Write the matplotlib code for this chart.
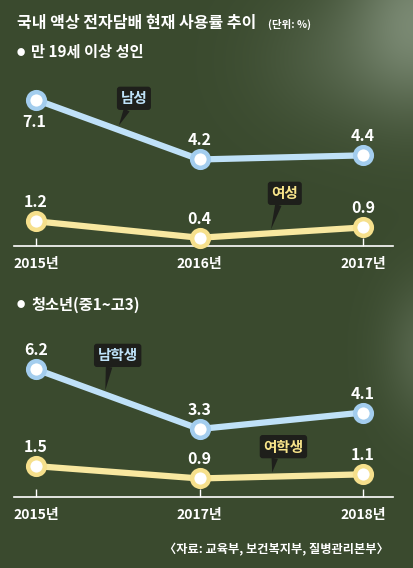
import numpy as np
import matplotlib
matplotlib.use('Agg')
import matplotlib.pyplot as plt

plt.rcParams['font.family'] = ['Noto Sans CJK KR', 'DejaVu Sans']
plt.rcParams['font.weight'] = 'bold'

# 데이터
adult_years = ['2015년', '2016년', '2017년']
adult_male = [7.1, 4.2, 4.4]
adult_female = [1.2, 0.4, 0.9]

teen_years = ['2015년', '2017년', '2018년']
teen_male = [6.2, 3.3, 4.1]
teen_female = [1.5, 0.9, 1.1]

W, H = 413, 568
bg = '#3a4a2e'
blue_line = '#bfe1f8'
blue_edge = '#a3cdee'
yellow_line = '#f8e8a0'
yellow_edge = '#f6e08c'
box_color = '#1e1f1b'

fig = plt.figure(figsize=(W / 100, H / 100), dpi=100, facecolor=bg)

# 배경 (흐릿한 밝은 부분)
bax = fig.add_axes([0, 0, 1, 1], zorder=-1)
yy, xx = np.mgrid[0:H, 0:W]
glow = (0.9 * np.exp(-(((xx - 420) / 70) ** 2 + ((yy - 20) / 90) ** 2))
        + 0.45 * np.exp(-(((xx - 430) / 45) ** 2 + ((yy - 350) / 70) ** 2))
        + 0.25 * np.exp(-(((xx - 330) / 80) ** 2 + ((yy - 60) / 70) ** 2)))
glow = np.clip(glow, 0, 1)
base = np.array([58, 74, 46]) / 255
light = np.array([125, 140, 118]) / 255
img = base[None, None, :] * (1 - glow[..., None]) + light[None, None, :] * glow[..., None]
bax.imshow(img, extent=[0, W, H, 0], aspect='auto')
bax.axis('off')


def px(x, y):
    return x / W, 1 - y / H


def panel(rect_top, axis_y, years, male, female, male_name, female_name,
          male_label_below, male_tip, female_tip, male_off, female_off):
    left = 14 / W
    width = 379 / W
    bottom = 1 - axis_y / H
    height = (axis_y - rect_top) / H
    ax = fig.add_axes([left, bottom, width, height])
    ax.set_facecolor('none')
    unit = 20.6
    ax.set_ylim(0, (axis_y - rect_top) / unit)
    ax.set_xlim(-22 / 163.5, 2 + 30 / 163.5)
    x = np.arange(len(years))

    ax.plot(x, male, color=blue_line, lw=4.5, zorder=3, solid_capstyle='round')
    ax.plot(x, male, 'o', ms=12, mfc='white', mec=blue_edge, mew=3.2, zorder=4, clip_on=False)
    ax.plot(x, female, color=yellow_line, lw=4.5, zorder=3, solid_capstyle='round')
    ax.plot(x, female, 'o', ms=12, mfc='white', mec=yellow_edge, mew=3.2, zorder=4, clip_on=False)

    for i, v in enumerate(male):
        if i == 0 and male_label_below:
            ax.annotate(f'{v}', (x[i], v), xytext=(-2, -22), textcoords='offset pixels',
                        ha='center', va='center', color='white', fontsize=11.5)
        else:
            ax.annotate(f'{v}', (x[i], v), xytext=(0, 19), textcoords='offset pixels',
                        ha='center', va='center', color='white', fontsize=11.5)
    for i, v in enumerate(female):
        ax.annotate(f'{v}', (x[i], v), xytext=(0, 19), textcoords='offset pixels',
                    ha='center', va='center', color='white', fontsize=11.5)

    # 말풍선 라벨
    for name, tip, off, data, tcol in [(male_name, male_tip, male_off, male, '#bfe3fa'),
                                       (female_name, female_tip, female_off, female, '#f8e48a')]:
        ty = np.interp(tip, x, data)
        ax.annotate(name, (tip, ty), xytext=off, textcoords='offset pixels',
                    ha='center', va='center', color=tcol, fontsize=10.5, zorder=5,
                    bbox=dict(boxstyle='round,pad=0.25,rounding_size=0.2', fc=box_color, ec='none'),
                    arrowprops=dict(arrowstyle='wedge,tail_width=0.45,shrink_factor=0.5',
                                    fc=box_color, ec='none', shrinkA=0, shrinkB=3,
                                    relpos=(0.3, 0.0)))

    for s in ['top', 'right', 'left']:
        ax.spines[s].set_visible(False)
    ax.spines['bottom'].set_color('white')
    ax.spines['bottom'].set_linewidth(1.2)
    ax.set_yticks([])
    ax.set_xticks(x)
    ax.set_xticklabels(years)
    ax.tick_params(axis='x', direction='in', length=6, width=1, color='white',
                   labelcolor='white', labelsize=10, pad=8)
    return ax


# 제목
fig.text(*px(17, 23), '국내 액상 전자담배 현재 사용률 추이', color='white',
         fontsize=11.5, va='center', ha='left')
fig.text(*px(268, 24), '(단위: %)', color='white', fontsize=7.5, va='center', ha='left')

fig.text(*px(17, 52), '●', color='white', fontsize=6, va='center', ha='left')
fig.text(*px(31, 52), '만 19세 이상 성인', color='white', fontsize=11, va='center', ha='left')

fig.text(*px(17, 305), '●', color='white', fontsize=6, va='center', ha='left')
fig.text(*px(31, 305), '청소년(중1~고3)', color='white', fontsize=11, va='center', ha='left')

panel(80, 246, adult_years, adult_male, adult_female, '남성', '여성',
      True, 0.495, 1.43, (17, 31), (15, 40))
panel(335, 497, teen_years, teen_male, teen_female, '남학생', '여학생',
      False, 0.42, 1.44, (13, 39), (12, 30))

fig.text(*px(389, 550), '〈자료: 교육부, 보건복지부, 질병관리본부〉', color='white',
         fontsize=8.8, va='center', ha='right')

fig.savefig('out.png', dpi=100, facecolor=bg)
